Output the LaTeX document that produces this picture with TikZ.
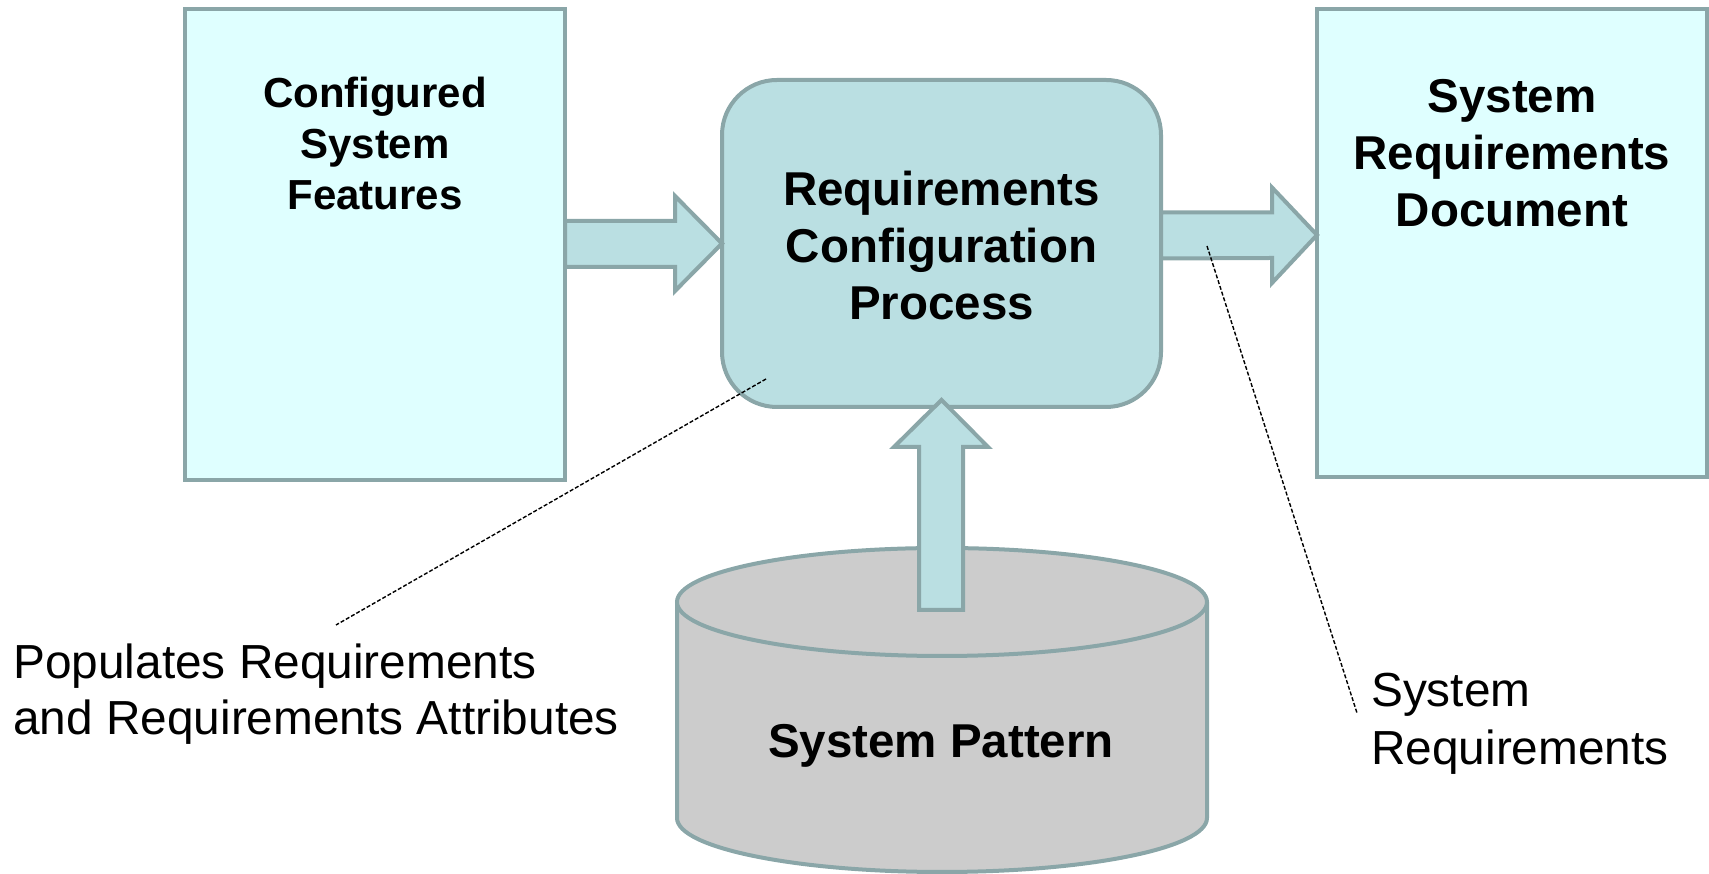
\documentclass[tikz,border=0pt]{standalone}
\usepackage{fontspec}
\setmainfont{Liberation Sans}
\usepackage{xcolor}
\usepackage{tikz}
\usetikzlibrary{calc,positioning}
\definecolor{reqBorder}{RGB}{138,166,168}
\definecolor{reqCyan}{RGB}{223,255,255}
\definecolor{reqTeal}{RGB}{186,223,226}
\definecolor{reqGray}{RGB}{204,204,204}

\begin{document}
\begin{tikzpicture}[x=1pt,y=1pt,
    docbox/.style={draw=reqBorder, fill=reqCyan, line width=4pt, outer sep=0pt, inner sep=0pt},
    procbox/.style={draw=reqBorder, fill=reqTeal, line width=4pt, outer sep=0pt, inner sep=0pt, rounded corners=55pt},
    flowarrow/.style={draw=reqBorder, fill=reqTeal, line width=4pt, line join=miter},
    drumfill/.style={draw=reqBorder, fill=reqGray, line width=4pt},
    headtxt/.style={inner sep=0pt, align=center, font=\fontsize{47.5}{57}\selectfont\bfseries},
    notetxt/.style={inner sep=0pt, align=left, anchor=west, font=\fontsize{47.8}{56}\selectfont},
    pointer/.style={black, line width=1.4pt, dash pattern=on 4pt off 2pt}]
    \useasboundingbox (0,0) rectangle (1709,874);

    % boxes
    \node[docbox, minimum width=380pt, minimum height=471pt] (feat) at (375,629.5) {};
    \node[headtxt, font=\fontsize{42}{51}\selectfont\bfseries] (featTxt) at (375,730) {Configured\\System\\Features};

    \node[procbox, minimum width=439pt, minimum height=327pt] (proc) at (941.5,630.5) {};
    \node[headtxt] (procTxt) at (941.5,628) {Requirements\\Configuration\\Process};

    \node[docbox, minimum width=390pt, minimum height=468pt] (doc) at (1512,631) {};
    \node[headtxt] (docTxt) at (1512,721) {System\\Requirements\\Document};

    % pattern store
    \draw[drumfill] (677,272) -- (677,56) arc[start angle=180, end angle=360, x radius=265, y radius=54] -- (1207,272);
    \draw[drumfill] (942,272) ellipse[x radius=265, y radius=54];
    \coordinate (patTop) at (941,264);
    \node[headtxt] (patTxt) at (941,128) {System Pattern};

    % block arrows
    \draw[flowarrow] ($(feat.east)+(0,23.5)$) -- ++(110,0) -- ++(0,25) -- (proc.west)
        -- ++(-47,-47.5) -- ++(0,24) -- ($(feat.east)+(0,-22.5)$) -- cycle;
    \draw[flowarrow] ($(proc.east)+(0,31)$) -- ++(111,0) -- ++(0,25) -- ($(doc.west)+(0,8)$)
        -- ++(-45,-48) -- ++(0,25) -- ($(proc.east)+(0,-15)$) -- cycle;
    \draw[flowarrow] ($(patTop)+(-22,0)$) -- ++(0,163) -- ++(-25,0) -- ($(proc.south)+(0,7)$)
        -- ++(46.5,-47) -- ++(-25,0) -- ($(patTop)+(22,0)$) -- cycle;

    % notes
    \node[notetxt] (popTxt) at (13,180) {Populates Requirements\\and Requirements Attributes};
    \node[notetxt, font=\fontsize{47.8}{58}\selectfont] (sysTxt) at (1371,150) {System\\Requirements};
    \coordinate (popFrom) at (766,495);
    \coordinate (popTo) at (336,249);
    \coordinate (sysFrom) at (1207,628);
    \coordinate (sysTo) at (1357,161);
    \draw[pointer] (popFrom) -- (popTo);
    \draw[pointer] (sysFrom) -- (sysTo);
\end{tikzpicture}
\end{document}
